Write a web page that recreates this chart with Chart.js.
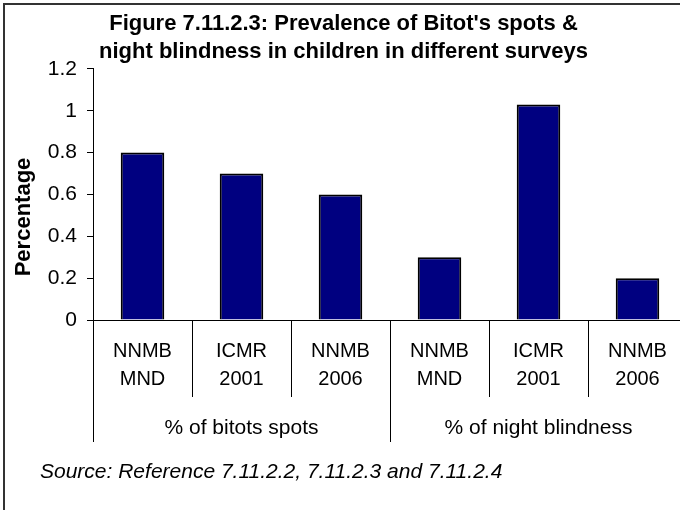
<!DOCTYPE html>
<html>
<head>
<meta charset="utf-8">
<script src="https://cdn.jsdelivr.net/npm/chart.js@4"></script>
<style>
html, body { margin:0; padding:0; background:#fff; overflow:hidden; }
#wrap { width:680px; height:510px; overflow:hidden; }
canvas { display:block; }
</style>
</head>
<body>
<div id="wrap"><canvas id="chart" width="690" height="510"></canvas></div>
<script>
// data
const surveys = [['NNMB', 'MND'], ['ICMR', '2001'], ['NNMB', '2006'], ['NNMB', 'MND'], ['ICMR', '2001'], ['NNMB', '2006']];
const groups = ['% of bitots spots', '% of night blindness'];
const groupSize = 3;
const prevalence = [0.8, 0.7, 0.6, 0.3, 1.03, 0.2];
const titleLines = ["Figure 7.11.2.3: Prevalence of Bitot's spots &", 'night blindness in children in different surveys'];
const yTitle = 'Percentage';
const sourceNote = 'Source: Reference 7.11.2.2, 7.11.2.3 and 7.11.2.4';

const FONT = 'Liberation Sans, Arial, sans-serif';

// group dividers + group names under the survey labels, y title, source line, frame
const extras = {
    id: 'extras',
    afterDraw(chart) {
        const ctx = chart.ctx;
        const x = chart.scales.x;
        ctx.save();
        ctx.strokeStyle = '#000';
        ctx.lineWidth = 1;
        let bounds = [x.left];
        for (let g = 1; g < groups.length; g++) {
            let i = g * groupSize;
            bounds.push((x.getPixelForValue(i - 1) + x.getPixelForValue(i)) / 2);
        }
        bounds.push(x.right);
        bounds.forEach(b => {
            let px = Math.round(b) + 0.5;
            ctx.beginPath();
            ctx.moveTo(px, x.top);
            ctx.lineTo(px, 442);
            ctx.stroke();
        });
        ctx.fillStyle = '#000';
        ctx.font = '21px ' + FONT;
        ctx.textAlign = 'center';
        ctx.textBaseline = 'middle';
        groups.forEach((g, i) => {
            ctx.fillText(g, x.getPixelForValue(i * groupSize + 1), 428);
        });
        // axis title sits a bit below the axis middle in the original
        ctx.save();
        ctx.translate(24, 217);
        ctx.rotate(-Math.PI / 2);
        ctx.font = 'bold 22px ' + FONT;
        ctx.fillText(yTitle, 0, 0);
        ctx.restore();
        ctx.font = 'italic 21px ' + FONT;
        ctx.textAlign = 'left';
        ctx.fillText(sourceNote, 40, 472);
        // chart frame (top and left edges only are visible)
        ctx.strokeStyle = '#333';
        ctx.lineWidth = 2;
        ctx.beginPath();
        ctx.moveTo(4, 510);
        ctx.lineTo(4, 4);
        ctx.lineTo(690, 4);
        ctx.stroke();
        ctx.restore();
    }
};

new Chart(document.getElementById('chart'), {
    type: 'bar',
    data: {
        labels: surveys,
        datasets: [{
            data: prevalence,
            backgroundColor: '#000080',
            borderColor: '#000',
            borderWidth: 2,
            barPercentage: 0.44,
            categoryPercentage: 1
        }]
    },
    options: {
        responsive: false,
        animation: false,
        layout: { padding: { left: 0, right: 3, top: 0, bottom: 110 } },
        plugins: {
            legend: { display: false },
            tooltip: { enabled: false },
            title: {
                display: true,
                text: titleLines,
                color: '#000',
                font: { family: FONT, size: 22, weight: 'bold', lineHeight: 1.27 },
                padding: { top: 10, bottom: 3 }
            }
        },
        scales: {
            x: {
                afterFit: s => { s.height = 80; },
                grid: { offset: true, drawOnChartArea: false, tickLength: 77, color: '#000' },
                border: { color: '#000' },
                ticks: {
                    padding: -60,
                    color: '#000',
                    maxRotation: 0,
                    autoSkip: false,
                    font: { family: FONT, size: 20, lineHeight: 1.43 }
                }
            },
            y: {
                min: 0,
                max: 1.2,
                afterFit: s => { s.width = 93; },
                grid: { drawOnChartArea: false, tickLength: 6, color: '#000' },
                border: { color: '#000' },
                ticks: {
                    stepSize: 0.2,
                    padding: 10,
                    color: '#000',
                    font: { family: FONT, size: 21 },
                    callback: v => String(+v.toFixed(1))
                }
            }
        }
    },
    plugins: [extras]
});
</script>
</body>
</html>
